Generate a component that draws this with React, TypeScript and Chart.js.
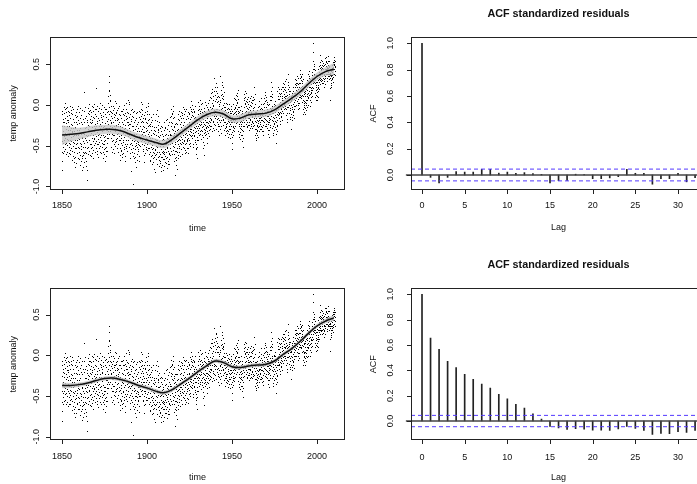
import React, { useEffect, useRef } from "react";
import { Chart, registerables } from "chart.js";

Chart.register(...registerables);

// ---------------- DATA ----------------
const START_YEAR = 1850;

// Monthly temperature anomaly, in hundredths of a degree, Jan 1850 ... Dec 2010 (one row per year)
const tempAnomalyHundredths: number[] = [
  -81,-69,-12,-45,-26,-58,-8,-33,-47,-21,-60,-36,
  -18,-52,-3,-39,-27,-11,-44,-57,-22,-6,-35,-48,
  2,-41,-16,-55,-30,-9,-23,-47,-37,-4,-61,-19,
  -58,-14,-42,-27,-3,-50,-36,-19,-63,-31,-8,-44,
  -21,-47,-9,-38,-60,-26,-13,-52,-31,-2,-43,-56,
  -49,-17,-61,-29,-7,-40,-54,-24,-11,-45,-33,-3,
  -12,-57,-34,-68,-25,-46,-6,-39,-63,-29,-51,-18,
  -71,-33,-58,-22,-47,-66,-38,-13,-54,-77,-29,-44,
  -28,-64,-15,-49,-37,-72,-22,-53,-9,-43,-60,-31,
  -6,-47,-24,-59,-14,-38,-52,-2,-35,-66,-19,-41,
  -53,-23,-67,-9,-42,-31,-58,-16,-47,-35,-4,-62,
  -74,-29,-55,-13,-48,-36,-69,-21,-51,-7,-40,-63,
  -80,-41,-66,-24,-58,-77,-35,-52,-18,-62,-45,-71,
  15,-47,-21,-60,-8,-36,-52,-17,-41,-3,-58,-29,
  -66,-28,-75,-44,-14,-59,-37,-70,-22,-53,-81,-39,
  -93,-19,-46,-4,-37,-61,-25,-11,-52,-30,-8,-43,
  -44,-12,-57,-26,1,-38,-18,-62,-33,-7,-49,-22,
  -9,-48,-23,-63,-35,-14,-54,-28,-2,-41,-59,-19,
  -52,-21,-3,-45,-31,-66,-15,-38,-8,-56,-26,-42,
  -17,-50,-33,1,-41,-24,-58,-12,-36,-5,-47,-29,
  20,-39,-14,-53,-27,-6,-45,-61,-20,-34,-2,-48,
  -57,-23,-42,-8,-64,-31,-16,-49,-37,-4,-53,-27,
  -4,-46,-19,-36,-58,-11,-29,2,-51,-24,-40,-13,
  -43,-15,-60,-27,-6,-38,-52,-21,-1,-47,-32,-18,
  -22,-58,-37,-9,-49,-66,-28,-14,-55,-40,-3,-45,
  -61,-27,-48,-12,-39,-70,-23,-53,-6,-44,-31,-57,
  -15,-52,-29,-63,-5,-41,-36,-57,-20,-9,-47,-31,
  -33,2,-24,-8,-41,11,-18,-29,-3,17,-12,-36,
  18,35,28,-19,6,-27,-8,12,-33,4,-14,-22,
  -41,-9,-52,-23,-2,-36,-58,-16,-30,-45,-11,-28,
  -7,-44,-21,-55,-30,-2,-38,-15,-49,-26,-60,-12,
  -38,-4,-29,-51,-13,4,-33,-19,-46,-9,-25,-42,
  -11,-45,-27,2,-36,-19,-53,-7,-30,-41,-16,-24,
  -49,-18,-35,-4,-58,-26,-12,-44,-31,-2,-39,-21,
  -21,-62,-43,-13,-54,-30,-68,-27,-8,-47,-37,-57,
  -56,-16,-41,-65,-28,-8,-50,-33,-61,-22,-44,-12,
  -6,-46,-24,-59,-35,-13,-52,-19,-40,-1,-30,-55,
  -63,-25,-48,-11,-37,-70,-29,-54,-18,-43,-6,-51,
  -14,-43,2,-36,-22,-57,-9,-31,-48,-17,-39,-25,
  -35,6,-21,-44,-10,-29,3,-38,-15,-52,-24,1,
  -24,-59,-41,-12,-66,-33,-49,-20,-55,-38,-7,-47,
  -82,-18,-43,-5,-37,-58,-26,-14,-50,-31,-63,-9,
  -98,-27,-53,-15,-45,-66,-36,-22,-60,-8,-41,-51,
  -64,-30,-55,-19,-71,-43,-11,-50,-36,-77,-26,-47,
  -17,-52,-33,-68,-24,-45,-61,-9,-40,-57,-29,-48,
  -55,-21,-46,-8,-63,-32,-15,-50,-39,-70,-27,-42,
  -9,-40,-18,-51,-27,3,-33,-14,-45,-22,-6,-37,
  -43,-12,-30,1,-48,-20,-36,-7,-55,-26,-16,-34,
  -22,-57,-39,-13,-62,-45,-28,-71,-34,-50,-18,-44,
  -47,-16,-37,-60,-9,-29,-52,-21,-41,-3,-33,-55,
  -8,-42,-23,-56,-31,-12,-48,-2,-36,-19,-53,-27,
  2,-46,-25,-61,-18,-39,-53,-12,-34,-68,-27,-41,
  -58,-24,-47,-69,-31,-15,-52,-38,-63,-21,-44,-55,
  -27,-62,-41,-73,-50,-19,-58,-35,-66,-46,-12,-53,
  -71,-36,-60,-28,-79,-47,-65,-31,-56,-83,-42,-62,
  -19,-55,-33,-67,-44,-12,-51,-28,-61,-38,-73,-46,
  -52,-20,-43,-7,-58,-30,-64,-25,-39,-14,-49,-34,
  -31,-68,-45,-75,-22,-58,-40,-63,-51,-29,-72,-47,
  -70,-38,-61,-27,-77,-49,-33,-65,-55,-82,-43,-58,
  -36,-74,-48,-64,-28,-57,-81,-42,-67,-39,-59,-51,
  -67,-31,-58,-76,-44,-22,-61,-37,-71,-48,-29,-55,
  -28,-63,-45,-72,-36,-58,-19,-66,-49,-78,-41,-54,
  -64,-30,-52,-18,-69,-42,-57,-25,-73,-38,-48,-61,
  -33,-59,-21,-67,-44,-73,-38,-54,-15,-49,-62,-36,
  -49,-14,-38,-57,-6,-26,-45,-22,-61,-30,-11,-42,
  -12,-47,-23,-2,-39,-56,-17,-31,-51,-8,-35,-26,
  -61,-28,-52,-15,-70,-38,-24,-57,-46,-66,-33,-49,
  -87,-36,-64,-42,-74,-23,-57,-68,-31,-53,-79,-45,
  -24,-58,-37,-66,-18,-49,-30,-62,-43,-12,-54,-35,
  -51,-19,-42,-8,-58,-31,-47,-14,-39,-63,-24,-44,
  -16,-49,-28,-55,-9,-40,-22,-61,-35,-13,-46,-30,
  -42,-10,-33,-52,-3,-25,-47,-17,-37,-6,-29,-45,
  -53,-21,-44,-12,-60,-36,-27,-49,-8,-40,-56,-31,
  -18,-47,-29,-58,-35,-6,-42,-24,-53,-37,-14,-44,
  -45,-16,-54,-33,-9,-41,-27,-59,-22,-48,-36,-12,
  -11,-43,-24,-51,-30,-3,-38,-18,-47,-32,-8,-39,
  -34,-5,-26,4,-30,-15,-41,-9,-22,-1,-37,-13,
  -41,-14,-35,-6,-48,-23,-31,-52,-17,-39,-9,-28,
  -8,-38,-20,-46,-29,-2,-34,-15,-43,-24,-53,-18,
  -55,-26,-48,-61,-33,-19,-52,-40,-66,-29,-44,-23,
  -35,-7,-27,-44,-12,3,-31,-19,-38,-5,-24,-16,
  -2,-29,-11,-36,-20,6,-25,-8,-33,-14,1,-21,
  -31,-6,-24,-42,-13,-28,2,-37,-17,-9,-33,-22,
  -46,-18,-53,-27,-11,-40,-62,-24,-35,-8,-50,-30,
  -4,-31,-19,-38,-9,-25,3,-34,-13,-22,-1,-28,
  -36,-10,-29,-47,-16,-3,-33,-22,-41,-14,-26,-7,
  -28,-5,-35,-14,-23,2,-39,-11,-20,-31,-8,-25,
  6,-21,-3,-30,-12,9,-17,-26,-6,14,-19,-9,
  -18,8,-27,-4,15,-13,-32,2,-9,19,-22,-1,
  11,-20,-2,-29,5,-14,33,-24,-7,16,-11,-31,
  -17,12,-8,21,-25,4,-12,17,-30,7,-5,26,
  27,-14,9,-21,14,-6,22,-18,3,-26,11,-9,
  -24,4,-16,-33,1,-19,9,-27,-7,-37,-2,-13,
  6,-22,35,-14,-30,3,-19,-5,12,-26,-11,-35,
  18,-9,24,-15,8,28,-4,13,-18,21,-1,10,
  -19,7,-25,11,-12,-31,2,-8,15,-22,-3,-16,
  -3,-29,-12,-38,-21,-7,-26,2,-33,-15,-24,-9,
  -28,-6,-35,-14,0,-23,-31,-10,-40,-18,-4,-20,
  -9,-32,-18,1,-27,-13,-36,-5,-22,-30,-11,-19,
  -30,-8,-24,-41,-14,-2,-27,-19,-36,-10,-22,-5,
  -55,-15,-34,-8,-40,-21,-47,-28,-12,-37,-19,-31,
  -26,1,-18,-32,-6,8,-22,-11,-29,-3,-16,-9,
  7,-19,-4,-27,5,-12,12,-23,-8,-1,-16,3,
  -14,10,-6,-21,14,2,-17,7,-10,18,-3,-8,
  -32,-9,-27,-40,-14,-3,-24,-36,-18,-7,-29,-21,
  -7,-34,-16,-42,-24,-2,-30,-12,-38,-20,-27,-11,
  -38,-14,-45,-22,-31,-8,-41,-19,-52,-27,-16,-33,
  -19,5,-13,-26,8,-3,13,-21,-9,2,-15,16,
  9,-16,1,-24,-8,14,-19,4,-12,-2,-27,7,
  -21,3,-13,-28,-4,9,-17,-9,-25,1,-11,-6,
  -3,-25,-9,-31,4,-17,-22,-7,-29,-13,-1,-19,
  8,-18,-2,-24,11,-11,-27,3,-9,-15,5,-21,
  -20,2,-14,-29,6,-7,-23,-12,9,-26,-4,-16,
  22,-16,-3,-25,7,-12,-30,1,-20,13,-9,-14,
  -13,-38,-22,-43,-30,-16,-35,-9,-41,-27,-19,-33,
  -31,-7,-25,-37,-14,-3,-28,-20,-40,-11,-23,-17,
  -2,-26,-10,-33,-19,4,-22,-13,-30,-6,-17,-24,
  -24,1,-15,-30,-4,-19,8,-27,-9,-13,-33,-6,
  -6,-28,-19,-37,-10,0,-25,-14,-32,-20,-3,-22,
  8,-16,2,-22,-7,12,-13,-26,4,-9,15,-18,
  -19,5,-11,-24,9,-3,-27,-14,3,-20,-8,1,
  -5,-29,-14,-36,-21,-8,-31,-1,-24,-40,-12,-19,
  -22,1,-16,-31,6,-12,-25,-4,-18,10,-28,-7,
  17,28,-6,11,-14,6,-2,21,-10,9,-19,13,
  -4,-29,-11,-35,-20,-7,-26,-15,-38,-2,-23,-17,
  -24,0,-17,-31,-5,-13,4,-28,-9,-20,-1,-15,
  -7,-30,-15,-36,-47,-22,-3,-26,-12,-33,-19,-25,
  16,-9,11,-2,21,-13,7,-6,14,1,-11,19,
  -17,7,-12,13,-24,-1,-9,10,-20,3,-14,-6,
  -10,14,-4,19,-15,8,-2,-19,11,5,22,-8,
  -3,21,6,-10,17,2,26,-6,13,9,-1,19,
  25,1,18,-4,29,10,-2,22,8,15,31,4,
  -13,11,-6,15,-18,4,-10,8,-21,12,-3,6,
  38,2,24,9,-3,19,28,6,16,-1,21,11,
  -11,13,-4,-18,8,16,-7,3,-15,10,-1,5,
  -30,9,-12,4,-19,14,-6,-15,7,-3,12,-9,
  -8,17,1,-13,11,22,-5,7,-16,14,3,-2,
  3,25,10,-2,21,14,31,6,18,-1,27,12,
  30,8,24,14,35,4,21,27,11,17,33,2,
  -1,19,7,25,-6,13,2,22,9,-4,16,27,
  12,33,20,38,9,27,42,16,30,22,8,35,
  34,10,26,3,29,17,37,12,23,5,31,19,
  18,-6,11,-12,15,2,-9,21,4,-3,13,-1,
  -12,17,3,22,-4,10,14,-7,19,6,-1,24,
  2,25,10,30,-3,18,6,21,13,-1,27,9,
  37,14,29,8,33,21,41,17,26,12,35,22,
  6,28,13,-2,22,31,9,18,3,25,14,20,
  15,36,22,40,18,30,11,33,26,44,20,29,
  75,65,53,38,47,31,44,36,50,28,42,33,
  34,9,27,14,30,5,24,18,36,12,21,28,
  11,32,19,6,28,36,15,24,9,30,20,17,
  43,22,37,28,47,31,19,40,34,25,45,30,
  61,33,48,36,52,29,44,39,55,31,46,42,
  54,30,45,38,26,49,35,51,43,32,47,40,
  27,44,31,22,40,36,48,29,37,25,43,33,
  57,41,50,35,54,44,38,58,47,42,52,45,
  32,46,38,51,29,43,48,35,54,40,37,45,
  60,54,46,35,42,31,38,47,33,44,39,36,
  5,20,38,27,35,24,41,30,36,22,33,44,
  31,45,36,49,40,28,52,43,37,46,34,50,
  55,48,58,52,43,50,38,46,41,53,36,47,
];

// Smooth trend fits (sampled every 5 years) with half-width of their grey bands
const smoothYears = [1850,1855,1860,1865,1870,1875,1880,1885,1890,1895,1900,1905,1910,1915,1920,1925,1930,1935,1940,1945,1950,1955,1960,1965,1970,1975,1980,1985,1990,1995,2000,2005,2010];
const smoothFitTop = [-0.37,-0.36,-0.35,-0.33,-0.31,-0.30,-0.30,-0.32,-0.36,-0.40,-0.43,-0.46,-0.48,-0.42,-0.34,-0.26,-0.18,-0.12,-0.09,-0.11,-0.17,-0.16,-0.12,-0.11,-0.10,-0.06,0.01,0.08,0.16,0.26,0.35,0.41,0.44];
const bandHalfTop = [0.12,0.09,0.07,0.065,0.06,0.055,0.055,0.05,0.05,0.05,0.05,0.05,0.05,0.05,0.045,0.045,0.045,0.045,0.045,0.045,0.045,0.045,0.045,0.045,0.045,0.045,0.045,0.045,0.045,0.045,0.05,0.055,0.075];
const smoothFitBottom = [-0.37,-0.37,-0.36,-0.34,-0.31,-0.285,-0.28,-0.30,-0.33,-0.37,-0.40,-0.44,-0.46,-0.42,-0.35,-0.28,-0.20,-0.13,-0.07,-0.09,-0.14,-0.15,-0.13,-0.12,-0.11,-0.07,0.01,0.08,0.17,0.27,0.36,0.42,0.46];
const bandHalfBottom = [0.035,0.03,0.025,0.025,0.025,0.025,0.025,0.025,0.025,0.025,0.025,0.025,0.025,0.025,0.025,0.025,0.025,0.025,0.025,0.025,0.025,0.025,0.025,0.025,0.025,0.025,0.025,0.025,0.025,0.025,0.025,0.03,0.035];

// Autocorrelation of standardized residuals, lags 0..32
const lags = [0,1,2,3,4,5,6,7,8,9,10,11,12,13,14,15,16,17,18,19,20,21,22,23,24,25,26,27,28,29,30,31,32];
const acfTop = [1,-0.018,-0.06,-0.018,0.025,0.022,0.022,0.043,0.043,0.014,0.022,0.013,0.018,0.01,0.005,-0.06,-0.043,-0.042,0.006,0.004,-0.028,-0.028,-0.022,-0.013,0.043,0.013,0.013,-0.07,-0.028,-0.028,0.013,-0.052,-0.02];
const acfBottom = [1,0.655,0.566,0.471,0.421,0.368,0.329,0.292,0.26,0.21,0.176,0.132,0.102,0.057,0.015,-0.042,-0.055,-0.066,-0.06,-0.064,-0.072,-0.073,-0.074,-0.062,-0.042,-0.058,-0.074,-0.106,-0.097,-0.099,-0.083,-0.09,-0.074];
const ciBound = 0.0447;

// Tick values and labels
const timeTicks = [1850, 1900, 1950, 2000];
const timeTickLabels = ["1850", "1900", "1950", "2000"];
const tempTicks = [-1, -0.5, 0, 0.5];
const tempTickLabels = ["-1.0", "-0.5", "0.0", "0.5"];
const lagTicks = [0, 5, 10, 15, 20, 25, 30];
const lagTickLabels = ["0", "5", "10", "15", "20", "25", "30"];
const acfTicks = [0, 0.2, 0.4, 0.6, 0.8, 1.0];
const acfTickLabels = ["0.0", "0.2", "0.4", "0.6", "0.8", "1.0"];

// ---------------- RENDERING ----------------
const FONT = '"Liberation Sans", Arial, Helvetica, sans-serif';

type Frame = {
  xTicks: number[]; xLabels: string[]; yTicks: number[]; yLabels: string[];
  xTitle: string; yTitle: string; title?: string;
  xLabelDy: number; xTitleDy: number; yLabelDx: number; yTitleDx: number; titleDy: number;
};

// draws the scatter dataset's points as crisp 1px dots (like R's pch=".")
const crispDots = {
  id: "crispDots",
  afterDatasetDraw(chart: any, args: any) {
    const ds = chart.data.datasets[args.index];
    if (!ds || !ds.crisp) return;
    const ctx = chart.ctx;
    const a = chart.chartArea;
    ctx.save();
    ctx.fillStyle = "#000";
    args.meta.data.forEach((pt: any) => {
      const x = Math.floor(pt.x);
      const y = Math.floor(pt.y);
      if (x >= a.left && x < a.right && y >= a.top && y < a.bottom) ctx.fillRect(x, y, 1, 1);
    });
    ctx.restore();
  },
};

function framePlugin(f: Frame) {
  return {
    id: "rFrame",
    afterDraw(chart: any) {
      const { ctx, chartArea: a } = chart;
      const xs = chart.scales.x;
      const ys = chart.scales.y;
      const tick = 4.5;
      ctx.save();
      ctx.strokeStyle = "#222";
      ctx.lineWidth = 1;
      const L = Math.round(a.left) + 0.5;
      const R = Math.round(a.right) - 0.5;
      const T = Math.round(a.top) + 0.5;
      const B = Math.round(a.bottom) - 0.5;
      ctx.strokeRect(L, T, R - L, B - T);
      ctx.beginPath();
      f.xTicks.forEach((v) => {
        const p = Math.round(xs.getPixelForValue(v)) + 0.5;
        ctx.moveTo(p, B);
        ctx.lineTo(p, B + tick);
      });
      f.yTicks.forEach((v) => {
        const p = Math.round(ys.getPixelForValue(v)) + 0.5;
        ctx.moveTo(L, p);
        ctx.lineTo(L - tick, p);
      });
      ctx.stroke();

      ctx.fillStyle = "#111";
      ctx.font = `9px ${FONT}`;
      ctx.textAlign = "center";
      ctx.textBaseline = "middle";
      f.xTicks.forEach((v, i) => {
        ctx.fillText(f.xLabels[i], xs.getPixelForValue(v), a.bottom + f.xLabelDy);
      });
      f.yTicks.forEach((v, i) => {
        ctx.save();
        ctx.translate(a.left + f.yLabelDx, ys.getPixelForValue(v));
        ctx.rotate(-Math.PI / 2);
        ctx.fillText(f.yLabels[i], 0, 0);
        ctx.restore();
      });
      ctx.fillText(f.xTitle, (a.left + a.right) / 2, a.bottom + f.xTitleDy);
      ctx.save();
      ctx.translate(a.left + f.yTitleDx, (a.top + a.bottom) / 2);
      ctx.rotate(-Math.PI / 2);
      ctx.fillText(f.yTitle, 0, 0);
      ctx.restore();
      if (f.title) {
        ctx.font = `bold 10.8px ${FONT}`;
        ctx.fillText(f.title, (a.left + a.right) / 2, a.top - f.titleDy);
      }
      ctx.restore();
    },
  };
}

type Pad = { left: number; top: number; right: number; bottom: number };

function baseOptions(pad: Pad, xMin: number, xMax: number, yMin: number, yMax: number) {
  return {
    responsive: false,
    animation: false as const,
    devicePixelRatio: 1,
    events: [] as any[],
    layout: { padding: pad },
    plugins: { legend: { display: false }, tooltip: { enabled: false } },
    scales: {
      x: { type: "linear" as const, display: false, min: xMin, max: xMax, offset: false },
      y: { type: "linear" as const, display: false, min: yMin, max: yMax },
    },
  };
}

function scatterConfig(fit: number[], half: number[], pad: Pad, yMax: number, frame: Frame) {
  const points = tempAnomalyHundredths.map((v, i) => ({ x: START_YEAR + (i + 0.5) / 12, y: v / 100 }));
  const fitPts = smoothYears.map((x, i) => ({ x, y: fit[i] }));
  const upper = smoothYears.map((x, i) => ({ x, y: fit[i] + half[i] }));
  const lower = smoothYears.map((x, i) => ({ x, y: fit[i] - half[i] }));
  return {
    type: "scatter" as const,
    data: {
      datasets: [
        { data: fitPts, showLine: true, borderColor: "#111", borderWidth: 1.5, pointRadius: 0, tension: 0.4, order: 0 },
        { data: upper, showLine: true, borderWidth: 0, borderColor: "rgba(0,0,0,0)", pointRadius: 0, tension: 0.4, fill: "+1", backgroundColor: "rgba(200,200,200,0.8)", order: 1 },
        { data: lower, showLine: true, borderWidth: 0, borderColor: "rgba(0,0,0,0)", pointRadius: 0, tension: 0.4, order: 2 },
        { data: points, crisp: true, pointRadius: 0, backgroundColor: "#000", borderWidth: 0, order: 3 },
      ],
    },
    options: baseOptions(pad, 1842.9, 2016.5, -1.044, yMax),
    plugins: [crispDots, framePlugin(frame)],
  };
}

function acfConfig(values: number[], pad: Pad, yMin: number, yMax: number, frame: Frame) {
  const xMin = -1.29;
  const xMax = 33.28;
  return {
    type: "bar" as const,
    data: {
      datasets: [
        { type: "line", data: [{ x: xMin, y: ciBound }, { x: xMax, y: ciBound }], borderColor: "#5238ff", borderWidth: 1, borderDash: [4, 3], pointRadius: 0, order: 0 },
        { type: "line", data: [{ x: xMin, y: -ciBound }, { x: xMax, y: -ciBound }], borderColor: "#5238ff", borderWidth: 1, borderDash: [4, 3], pointRadius: 0, order: 1 },
        { type: "line", data: [{ x: xMin - 0.6, y: 0 }, { x: xMax, y: 0 }], borderColor: "#444", borderWidth: 1.6, pointRadius: 0, clip: false, order: 2 },
        { type: "bar", data: lags.map((l, i) => ({ x: l, y: values[i] })), backgroundColor: "#222", borderWidth: 0, barThickness: 1, order: 3 },
      ],
    },
    options: baseOptions(pad, xMin, xMax, yMin, yMax),
    plugins: [framePlugin(frame)],
  };
}

function Panel(props: { left: number; top: number; width: number; height: number; make: () => any }) {
  const ref = useRef<HTMLCanvasElement>(null);
  useEffect(() => {
    const chart = new Chart(ref.current as HTMLCanvasElement, props.make());
    return () => chart.destroy();
  }, []);
  return (
    <canvas
      ref={ref}
      width={props.width}
      height={props.height}
      style={{ position: "absolute", left: props.left, top: props.top, width: props.width, height: props.height }}
    />
  );
}

const timeFrame = (xLabelDy: number, xTitleDy: number): Frame => ({
  xTicks: timeTicks, xLabels: timeTickLabels, yTicks: tempTicks, yLabels: tempTickLabels,
  xTitle: "time", yTitle: "temp anomaly",
  xLabelDy, xTitleDy, yLabelDx: -13.7, yTitleDx: -36, titleDy: 0,
});

const acfFrame = (xLabelDy: number, xTitleDy: number): Frame => ({
  xTicks: lagTicks, xLabels: lagTickLabels, yTicks: acfTicks, yLabels: acfTickLabels,
  xTitle: "Lag", yTitle: "ACF", title: "ACF standardized residuals",
  xLabelDy, xTitleDy, yLabelDx: -20, yTitleDx: -37.5, titleDy: 23.3,
});

export default function App() {
  return (
    <div style={{ position: "absolute", left: 0, top: 0, width: 697, height: 484, overflow: "hidden", background: "#fff" }}>
      <Panel left={0} top={0} width={350} height={242}
        make={() => scatterConfig(smoothFitTop, bandHalfTop, { left: 50, top: 37, right: 5, bottom: 52 }, 0.835, timeFrame(15.3, 38.5))} />
      <Panel left={349} top={0} width={380} height={242}
        make={() => acfConfig(acfTop, { left: 62, top: 37, right: 23, bottom: 52 }, -0.114, 1.048, acfFrame(16, 38))} />
      <Panel left={0} top={242} width={350} height={242}
        make={() => scatterConfig(smoothFitBottom, bandHalfBottom, { left: 50, top: 46, right: 5, bottom: 43.7 }, 0.827, timeFrame(16.2, 37.7))} />
      <Panel left={349} top={242} width={380} height={242}
        make={() => acfConfig(acfBottom, { left: 62, top: 46, right: 23, bottom: 43.7 }, -0.152, 1.05, acfFrame(16.9, 37.7))} />
    </div>
  );
}
